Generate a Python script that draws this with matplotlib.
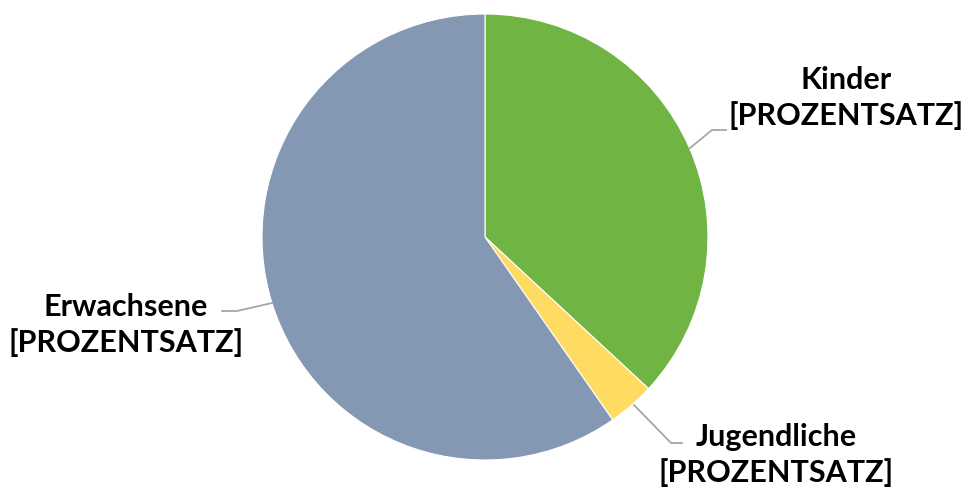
import matplotlib
matplotlib.use("Agg")
import matplotlib.pyplot as plt

categories = ["Kinder", "Jugendliche", "Erwachsene"]
values = [36.9, 3.4, 59.7]
label_text = "[PROZENTSATZ]"
colors = ["#70B443", "#FFDB61", "#8497B3"]

W, H = 965, 494
fig = plt.figure(figsize=(W / 100, H / 100), dpi=100)
ax = fig.add_axes([0, 0, 1, 1])

cx, cy, r = 485, H - 237, 223
ax.pie(values, colors=colors, startangle=90, counterclock=False,
       center=(cx, cy), radius=r, frame=True,
       wedgeprops=dict(edgecolor="white", linewidth=0.8))
ax.set_xlim(0, W)
ax.set_ylim(0, H)
ax.set_aspect("equal")
ax.axis("off")

font = dict(family=["Lato", "DejaVu Sans"], weight="bold", fontsize=22,
            color="#000000", ha="center", va="center", linespacing=1.3)

lc = "#A6A6A6"
# Kinder
ax.plot([690, 712, 726], [H - 148, H - 130, H - 130], color=lc, lw=1.3)
ax.text(846, H - 98, f"{categories[0]}\n{label_text}", **font)
# Jugendliche
ax.plot([634, 671, 682], [H - 405, H - 443, H - 443], color=lc, lw=1.3)
ax.text(776, H - 455, f"{categories[1]}\n{label_text}", **font)
# Erwachsene
ax.plot([272, 237, 222], [H - 303, H - 311, H - 311], color=lc, lw=1.3)
ax.text(126, H - 325, f"{categories[2]}\n{label_text}", **font)

fig.savefig("out.png", dpi=100, facecolor="white")
